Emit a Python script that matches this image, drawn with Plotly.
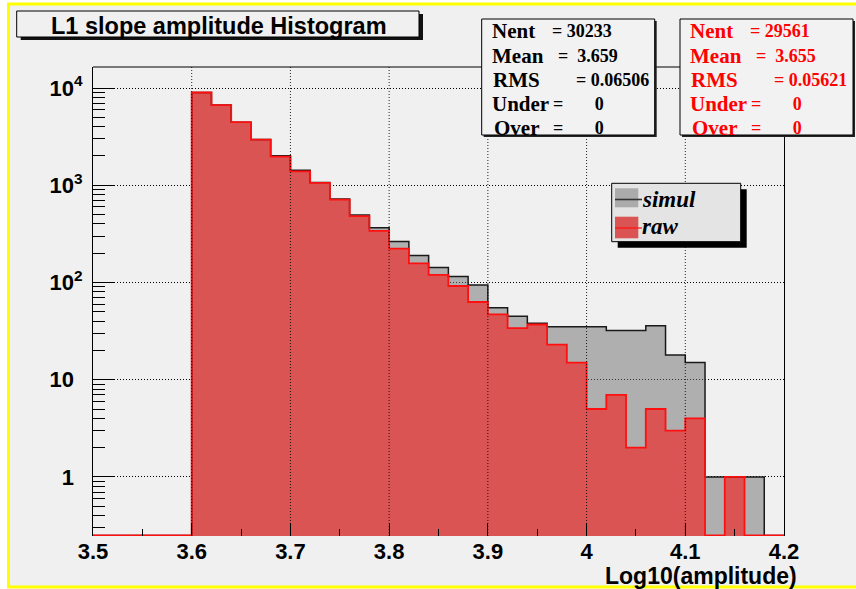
import plotly.graph_objects as go

# ---- histogram contents ---------------------------------------------------
bin_edges = [3.50, 3.52, 3.54, 3.56, 3.58, 3.60, 3.62, 3.64, 3.66, 3.68,
             3.70, 3.72, 3.74, 3.76, 3.78, 3.80, 3.82, 3.84, 3.86, 3.88,
             3.90, 3.92, 3.94, 3.96, 3.98, 4.00, 4.02, 4.04, 4.06, 4.08,
             4.10, 4.12, 4.14, 4.16, 4.18, 4.20]

simul_counts = [0, 0, 0, 0, 0,
                8990, 6670, 4450, 2950, 2010, 1430, 1070, 722, 493, 365,
                264, 190, 143, 115, 94, 55, 45, 38, 35, 35,
                35, 32, 32, 36, 18, 15, 1, 1, 1, 0]

raw_counts = [0, 0, 0, 0, 0,
              8990, 6670, 4450, 2950, 1970, 1390, 1060, 711, 482, 340,
              223, 157, 120, 92, 63, 47, 34, 37, 23, 15,
              5, 7, 2, 5, 3, 4, 0, 1, 0, 0]

series_names = ["simul", "raw"]

stat_labels = ["Nent", "Mean", "RMS", "Under", "Over"]
simul_stats = ["30233", "3.659", "0.06506", "0", "0"]
raw_stats = ["29561", "3.655", "0.05621", "0", "0"]

x_tick_vals = [3.5, 3.6, 3.7, 3.8, 3.9, 4.0, 4.1, 4.2]
x_tick_text = ["3.5", "3.6", "3.7", "3.8", "3.9", "4", "4.1", "4.2"]
x_minor_vals = [3.55, 3.65, 3.75, 3.85, 3.95, 4.05, 4.15]
y_tick_vals = [1, 10, 100, 1000, 10000]
y_tick_text = ["1<sup>\u00a0\u00a0</sup>", "10<sup>\u00a0\u00a0</sup>",
               "10<sup>2</sup>", "10<sup>3</sup>", "10<sup>4</sup>"]

title_text = "L1 slope amplitude Histogram"
x_title_text = "Log10(amplitude)"

# ---- geometry / style -----------------------------------------------------
W, H = 856, 589
M_L, M_R, M_T, M_B = 93, 72, 67, 53
PW, PH = W - M_L - M_R, H - M_T - M_B
Y_RANGE = [-0.607, 4.216]          # log10 units

BG = "#f0f0f0"
GRAY_FILL = "rgba(110,110,110,0.5)"
RED_FILL = "#db5454"
SANS = "Liberation Sans, Arial, sans-serif"
SERIF = "Liberation Serif, Times New Roman, serif"
NBSP = "\u00a0"


def px(x):
    return (x - M_L) / PW


def py(y):
    return (H - M_B - y) / PH


# minor ticks of the log axis (2..9 in every decade)
y_minor_vals = [k * 10.0 ** d for d in range(-1, 5) for k in range(2, 10)]

centers = [(a + b) / 2 for a, b in zip(bin_edges[:-1], bin_edges[1:])]
widths = [b - a for a, b in zip(bin_edges[:-1], bin_edges[1:])]
floor_val = 10 ** (Y_RANGE[0] + 0.006)   # empty bins sit on the frame bottom


def outline(counts):
    xs = [bin_edges[0]] + bin_edges[:-1] + [bin_edges[-1]]
    ys = [floor_val] + [c if c > 0 else floor_val for c in counts] + [floor_val]
    return xs, ys


fig = go.Figure()

fig.add_trace(go.Bar(x=centers, y=simul_counts, width=widths,
                     marker=dict(color=GRAY_FILL, line=dict(width=0)),
                     name=series_names[0], showlegend=False, hoverinfo="skip"))
sx, sy = outline(simul_counts)
fig.add_trace(go.Scatter(x=sx, y=sy, mode="lines", line_shape="hv",
                         line=dict(color="#1a1a1a", width=1.5),
                         showlegend=False, hoverinfo="skip"))

fig.add_trace(go.Bar(x=centers, y=raw_counts, width=widths,
                     marker=dict(color=RED_FILL, line=dict(width=0)),
                     name=series_names[1], showlegend=False, hoverinfo="skip"))
rx, ry = outline(raw_counts)
fig.add_trace(go.Scatter(x=rx, y=ry, mode="lines", line_shape="hv",
                         line=dict(color="#ff1010", width=1.8),
                         showlegend=False, hoverinfo="skip"))

shapes = []
# canvas with the yellow pad border
shapes.append(dict(type="rect", xref="paper", yref="paper", layer="below",
                   x0=px(8.5), x1=px(W + 10), y0=py(587), y1=py(4),
                   fillcolor=BG, line=dict(color="#ffff00", width=3)))

# dotted vertical grid (drawn over the fills)
for v in x_tick_vals[1:-1]:
    shapes.append(dict(type="line", xref="x", yref="paper", layer="above",
                       x0=v, x1=v, y0=0, y1=1,
                       line=dict(color="rgba(0,0,0,0.85)", width=1, dash="1px,2px")))
# top edge of the frame
shapes.append(dict(type="line", xref="paper", yref="paper", layer="above",
                   x0=0, x1=1, y0=1, y1=1, line=dict(color="black", width=1)))


def box(x0, y0, x1, y1, fill, shadow, sdx, sdy):
    shapes.append(dict(type="rect", xref="paper", yref="paper", layer="above",
                       x0=px(x0 + sdx), x1=px(x1 + sdx), y0=py(y1 + sdy), y1=py(y0 + sdy),
                       fillcolor=shadow, line=dict(width=0)))
    shapes.append(dict(type="rect", xref="paper", yref="paper", layer="above",
                       x0=px(x0), x1=px(x1), y0=py(y1), y1=py(y0),
                       fillcolor=fill, line=dict(color="black", width=1)))


# title pave
box(16.7, 11, 419, 37, BG, "#111111", 4, 3)
# statistics boxes
STAT_BOXES = [(481.7, "black", simul_stats), (680.0, "#ff0000", raw_stats)]
for left, _, _ in STAT_BOXES:
    box(left, 19, left + 173, 135, "#f2f2f2", "#222222", 2, 2)
# legend
LEG = (611.7, 183.3, 740.7, 241.7)
box(*LEG, "#e4e4e4", "black", 6, 6)
shapes.append(dict(type="rect", xref="paper", yref="paper", layer="above",
                   x0=px(615), x1=px(638.3), y0=py(207.3), y1=py(188.3),
                   fillcolor="#ababab", line=dict(width=0)))
shapes.append(dict(type="line", xref="paper", yref="paper", layer="above",
                   x0=px(615), x1=px(642), y0=py(199.5), y1=py(199.5),
                   line=dict(color="#333333", width=1.6)))
shapes.append(dict(type="rect", xref="paper", yref="paper", layer="above",
                   x0=px(615), x1=px(638.3), y0=py(238.3), y1=py(216.7),
                   fillcolor=RED_FILL, line=dict(width=0)))
shapes.append(dict(type="line", xref="paper", yref="paper", layer="above",
                   x0=px(615), x1=px(642), y0=py(228), y1=py(228),
                   line=dict(color="#ff1010", width=1.2)))

annotations = []
annotations.append(dict(text=title_text, xref="paper", yref="paper",
                        x=px(50), y=py(25.5), xanchor="left", yanchor="middle",
                        showarrow=False, borderpad=0,
                        font=dict(family=SANS, size=23.5, color="black", weight="bold")))
annotations.append(dict(text=x_title_text, xref="paper", yref="paper",
                        x=px(798), y=py(576), xanchor="right", yanchor="middle",
                        showarrow=False, borderpad=0,
                        font=dict(family=SANS, size=23, color="black", weight="bold")))

# stats rows: vertical centre, offset of the "= value" part, spacing after "="
ROW_Y = [31.0, 56.0, 80.0, 104.0, 128.0]
NAME_DX = [9, 9, 10, 9, 11]
EQ_DX = [69, 75, 93, 70, 70]
EQ_GAP = [1, 2, 1, 7, 7]
for left, color, values in STAT_BOXES:
    for i, (lab, val) in enumerate(zip(stat_labels, values)):
        annotations.append(dict(text=lab, xref="paper", yref="paper",
                                x=px(left + NAME_DX[i]), y=py(ROW_Y[i]),
                                xanchor="left", yanchor="middle",
                                showarrow=False, borderpad=0,
                                font=dict(family=SERIF, size=21, color=color,
                                          weight="bold")))
        annotations.append(dict(text="=" + NBSP * EQ_GAP[i] + val,
                                xref="paper", yref="paper",
                                x=px(left + EQ_DX[i]), y=py(ROW_Y[i]),
                                xanchor="left", yanchor="middle",
                                showarrow=False, borderpad=0,
                                font=dict(family=SERIF, size=18, color=color,
                                          weight="bold")))

for name, yc in zip(series_names, [199.0, 226.5]):
    annotations.append(dict(text=name, xref="paper", yref="paper",
                            x=px(640.5), y=py(yc), xanchor="left", yanchor="middle",
                            showarrow=False, borderpad=0,
                            font=dict(family=SERIF, size=23, color="black",
                                      weight="bold", style="italic")))

fig.update_layout(
    width=W, height=H,
    margin=dict(l=M_L, r=M_R, t=M_T, b=M_B, pad=0),
    paper_bgcolor="white",
    plot_bgcolor="rgba(0,0,0,0)",
    barmode="overlay", bargap=0,
    showlegend=False,
    hovermode=False,
    shapes=shapes,
    annotations=annotations,
    xaxis=dict(range=[3.5, 4.2], tickmode="array", tickvals=x_tick_vals,
               ticktext=x_tick_text, ticks="inside", ticklen=13, tickwidth=1,
               tickcolor="black", showline=False, showgrid=False, zeroline=False,
               layer="above traces", ticklabelstandoff=0,
               tickfont=dict(family=SANS, size=22, color="black", weight="bold"),
               minor=dict(tickvals=x_minor_vals, ticks="inside", ticklen=7,
                          tickwidth=1, tickcolor="black", showgrid=False)),
    yaxis=dict(type="log", range=Y_RANGE, tickmode="array", tickvals=y_tick_vals,
               ticktext=y_tick_text, ticks="inside", ticklen=21, tickwidth=1,
               tickcolor="black", showline=True, linecolor="black", linewidth=1,
               mirror=True, zeroline=False, layer="above traces",
               showgrid=True, gridcolor="black", gridwidth=1, griddash="1px,2px",
               ticklabelstandoff=5,
               tickfont=dict(family=SANS, size=22, color="black", weight="bold"),
               minor=dict(tickvals=y_minor_vals, ticks="inside", ticklen=12,
                          tickwidth=1, tickcolor="black", showgrid=False)),
)

fig.write_html("out.html")
